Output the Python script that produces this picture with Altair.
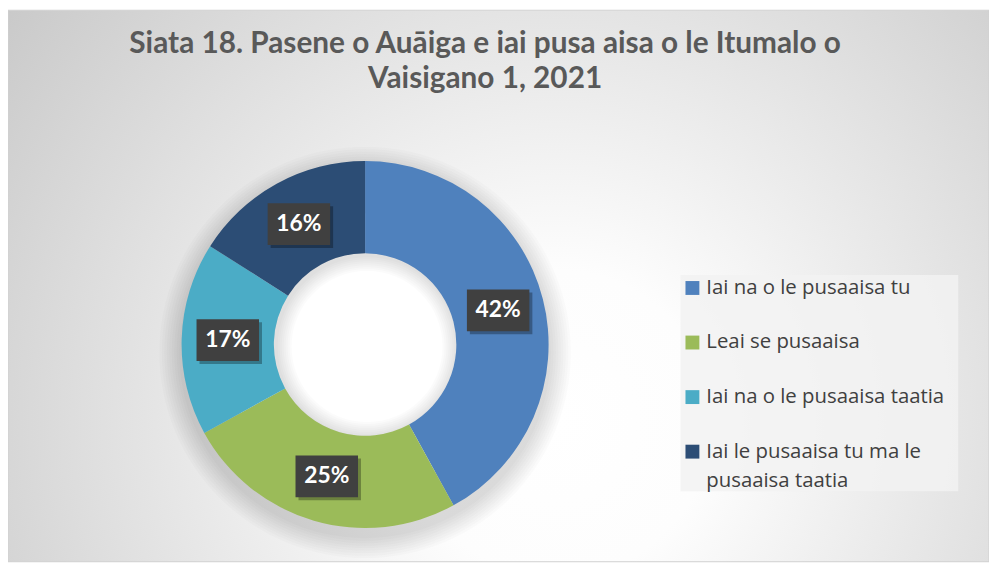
import altair as alt
import pandas as pd
import textwrap

# ---------------- data ----------------
CATEGORIES = [
    "Iai na o le pusaaisa tu",
    "Leai se pusaaisa",
    "Iai na o le pusaaisa taatia",
    "Iai le pusaaisa tu ma le pusaaisa taatia",
]
PERCENTS = [42, 25, 17, 16]
COLORS = ["#4F81BD", "#9BBB59", "#4BACC6", "#2C4D75"]
TITLE_LINES = [
    "Siata 18. Pasene o Auāiga e iai pusa aisa o le Itumalo o",
    "Vaisigano 1, 2021",
]

# ---------------- layout ----------------
W, H = 989, 556
CX, CY = 360, 337
R_IN, R_OUT = 92, 185
R_LAB = (R_IN + R_OUT) / 2
FONT = "Lato"
LEG_FONT = "Open Sans"
BOX_PATH = "M-1,-0.667L1,-0.667L1,0.667L-1,0.667Z"
BOX_SIZE = 63 * 63
TWO_PI = 6.2832

LEG_X0, LEG_X1, LEG_Y0, LEG_Y1 = 678, 958, 267, 485
LEG_SYM_X, LEG_TXT_X = 690, 704
LEG_ROW0, LEG_DY, LEG_LH = 280, 55, 30

wrapped = [textwrap.wrap(c, 27) for c in CATEGORIES]
df = pd.DataFrame({
    "category": CATEGORIES,
    "value": PERCENTS,
    "order": list(range(len(CATEGORIES))),
    "label": [f"{p}%" for p in PERCENTS],
    "line1": [w[0] for w in wrapped],
    "line2": [w[1] if len(w) > 1 else "" for w in wrapped],
})
one = pd.DataFrame({"a": [0]})
title_df = pd.DataFrame({"t": TITLE_LINES, "i": list(range(len(TITLE_LINES)))})

color = alt.Color("category:N", scale=alt.Scale(domain=CATEGORIES, range=COLORS), legend=None)

# background with radial gradient
bg = alt.Chart(one).mark_rect(
    fill=alt.RadialGradient(
        gradient="radial",
        stops=[
            alt.GradientStop(offset=0, color="#FFFFFF"),
            alt.GradientStop(offset=0.2, color="#FDFDFD"),
            alt.GradientStop(offset=1, color="#C2C2C2"),
        ],
        x1=0.56, y1=0.64, r1=0, x2=0.56, y2=0.64, r2=0.78,
    ),
    stroke="#D0D0D0", strokeWidth=1,
).encode(x=alt.value(0), x2=alt.value(W), y=alt.value(0), y2=alt.value(H))

# soft outer shadow of the donut
outer_shadow = [
    alt.Chart(one).mark_arc(theta=0, theta2=TWO_PI, innerRadius=140, outerRadius=R_OUT + k * 2.5,
                            color="#000000", opacity=0.014).encode(x=alt.value(CX), y=alt.value(CY + 8))
    for k in range(1, 10)
]
hole = alt.Chart(one).mark_arc(theta=0, theta2=TWO_PI, innerRadius=0, outerRadius=R_IN,
                               color="#FFFFFF").encode(x=alt.value(CX), y=alt.value(CY))
inner_shadow = [
    alt.Chart(one).mark_arc(theta=0, theta2=TWO_PI, innerRadius=R_IN - k * 2, outerRadius=R_IN + 6,
                            color="#000000", opacity=0.014).encode(x=alt.value(CX + 2), y=alt.value(CY + 2))
    for k in range(1, 9)
]

base = alt.Chart(df)
donut = base.mark_arc(innerRadius=R_IN, outerRadius=R_OUT).encode(
    theta=alt.Theta("value:Q", stack=True),
    color=color,
    order=alt.Order("order:Q"),
    x=alt.value(CX), y=alt.value(CY),
)

lab = base.transform_joinaggregate(total="sum(value)").transform_window(
    cum="sum(value)", sort=[alt.SortField("order")], frame=[None, 0]
).transform_calculate(
    mid="(datum.cum - datum.value / 2) / datum.total"
).transform_calculate(
    px=f"{CX} + {R_LAB} * sin(2 * PI * datum.mid)",
    py=f"{CY} - {R_LAB} * cos(2 * PI * datum.mid)",
).transform_calculate(
    sx="datum.px + 3", sy="datum.py + 3"
)

box_shadow = lab.mark_point(shape=BOX_PATH, size=BOX_SIZE, filled=True, color="#000000",
                            opacity=0.3, strokeWidth=0).encode(
    x=alt.X("sx:Q", scale=None), y=alt.Y("sy:Q", scale=None))
box = lab.mark_point(shape=BOX_PATH, size=BOX_SIZE, filled=True, color="#404040",
                     opacity=1, strokeWidth=0).encode(
    x=alt.X("px:Q", scale=None), y=alt.Y("py:Q", scale=None))
box_text = lab.mark_text(font=FONT, fontSize=23, fontWeight="bold", color="#FFFFFF",
                         align="center", baseline="middle").encode(
    x=alt.X("px:Q", scale=None), y=alt.Y("py:Q", scale=None), text="label:N")

# legend (manual)
leg_box = alt.Chart(one).mark_rect(fill="#F2F2F2", opacity=0.85).encode(
    x=alt.value(LEG_X0), x2=alt.value(LEG_X1), y=alt.value(LEG_Y0), y2=alt.value(LEG_Y1))
leg = base.transform_calculate(ty=f"{LEG_ROW0} + datum.order * {LEG_DY}",
                               ty2=f"{LEG_ROW0} + datum.order * {LEG_DY} + {LEG_LH}")
leg_sym = leg.mark_point(shape="square", size=14 * 14, filled=True, opacity=1, strokeWidth=0).encode(
    x=alt.value(LEG_SYM_X), y=alt.Y("ty:Q", scale=None), color=color)
leg_txt1 = leg.mark_text(font=LEG_FONT, fontSize=20.5, color="#404040", align="left", baseline="middle").encode(
    x=alt.value(LEG_TXT_X), y=alt.Y("ty:Q", scale=None), text="line1:N")
leg_txt2 = leg.transform_filter("datum.line2 != ''").mark_text(
    font=LEG_FONT, fontSize=20.5, color="#404040", align="left", baseline="middle").encode(
    x=alt.value(LEG_TXT_X), y=alt.Y("ty2:Q", scale=None), text="line2:N")

title = alt.Chart(title_df).transform_calculate(ty="34 + datum.i * 35").mark_text(
    font=FONT, fontSize=30, fontWeight="bold", color="#595959", align="center", baseline="middle"
).encode(x=alt.value(481), y=alt.Y("ty:Q", scale=None), text="t:N")

chart = alt.layer(
    bg, *outer_shadow, hole, *inner_shadow, donut, box_shadow, box, box_text,
    leg_box, leg_sym, leg_txt1, leg_txt2, title,
).properties(width=W, height=H, padding=0, autosize=alt.AutoSizeParams(type="none")).configure_view(
    stroke=None
)

chart.save("out.html", embed_options={"renderer": "svg", "actions": False})
